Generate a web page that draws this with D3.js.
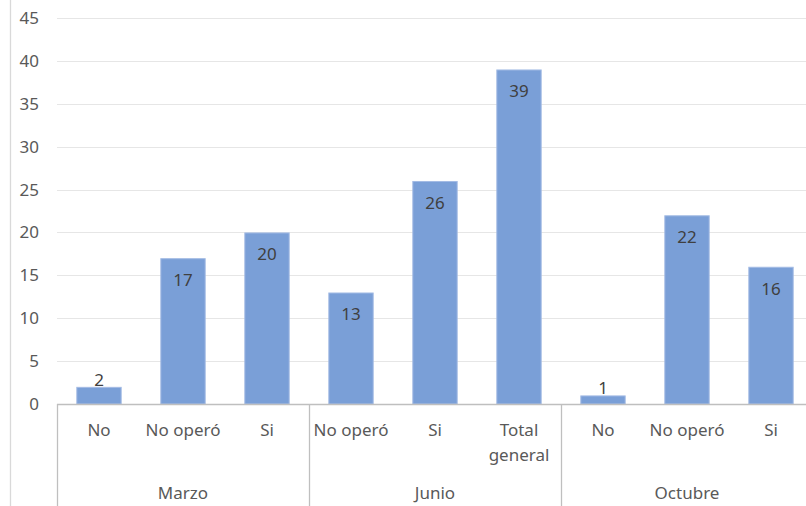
<!DOCTYPE html>
<meta charset="utf-8">
<style>
    body { margin: 0; background: #fff; }
    svg text { font-family: "Noto Sans", sans-serif; fill: #595959; }
    .grid line { stroke: #e6e6e6; stroke-width: 1; }
    .sep { stroke: #bfbfbf; stroke-width: 1.3; }
</style>
<svg width="806" height="506"></svg>
<script src="https://d3js.org/d3.v7.min.js"></script>
<script>

    // data
    var groups = ["Marzo", "Junio", "Octubre"];
    var categories = ["No", "No operó", "Si", "No operó", "Si", "Total general", "No", "No operó", "Si"];
    var groupOf = [0, 0, 0, 1, 1, 1, 2, 2, 2];
    var values = [2, 17, 20, 13, 26, 39, 1, 22, 16];
    var yTicks = [0, 5, 10, 15, 20, 25, 30, 35, 40, 45];

    var svg = d3.select("svg");

    var left = 57, right = 813, y0 = 404, yTop = 18;

    var x = d3.scaleBand()
        .domain(d3.range(values.length))
        .range([left, right])
        .paddingInner(0.46)
        .paddingOuter(0.23);

    var y = d3.scaleLinear().domain([0, 45]).range([y0, yTop]);

    // chart border on the left
    svg.append("line")
        .attr("x1", 10.5).attr("x2", 10.5)
        .attr("y1", 0).attr("y2", 506)
        .attr("stroke", "#d9d9d9").attr("stroke-width", 1.3);

    // gridlines
    svg.append("g").attr("class", "grid")
        .selectAll("line")
        .data(yTicks.slice(1))
        .enter().append("line")
        .attr("x1", left).attr("x2", 806)
        .attr("y1", function (d) { return Math.round(y(d)) + 0.5; })
        .attr("y2", function (d) { return Math.round(y(d)) + 0.5; });

    // y labels
    svg.append("g")
        .selectAll("text")
        .data(yTicks)
        .enter().append("text")
        .attr("x", 39)
        .attr("y", function (d) { return y(d); })
        .attr("dy", "0.35em")
        .attr("text-anchor", "end")
        .attr("font-size", 17)
        .text(function (d) { return d; });

    // bars
    svg.append("g")
        .selectAll("rect")
        .data(values)
        .enter().append("rect")
        .attr("x", function (d, i) { return x(i) + 0.5; })
        .attr("width", x.bandwidth() - 1)
        .attr("y", function (d) { return y(d) + 0.5; })
        .attr("height", function (d) { return y0 - y(d) - 0.5; })
        .attr("fill", "#7a9fd7")
        .attr("stroke", "#a3bbe4")
        .attr("stroke-width", 1);

    // value labels
    svg.append("g")
        .selectAll("text")
        .data(values)
        .enter().append("text")
        .attr("x", function (d, i) { return x(i) + x.bandwidth() / 2; })
        .attr("y", function (d) {
            return (y0 - y(d) < 30) ? y(d) - 1 : y(d) + 28;
        })
        .attr("text-anchor", "middle")
        .attr("font-size", 17)
        .style("fill", "#404040")
        .text(function (d) { return d; });

    // base axis line
    svg.append("line").attr("class", "sep")
        .attr("x1", left).attr("x2", 806)
        .attr("y1", y0 + 0.5).attr("y2", y0 + 0.5);

    // group separators
    var step = x.step();
    svg.append("g")
        .selectAll("line")
        .data(d3.range(groups.length + 1))
        .enter().append("line").attr("class", "sep")
        .attr("x1", function (d) { return Math.round(left + d * 3 * step) + 0.5; })
        .attr("x2", function (d) { return Math.round(left + d * 3 * step) + 0.5; })
        .attr("y1", y0).attr("y2", 506);

    // category labels
    var cat = svg.append("g")
        .selectAll("text")
        .data(categories)
        .enter().append("text")
        .attr("text-anchor", "middle")
        .attr("font-size", 17)
        .attr("y", 436);

    cat.each(function (d, i) {
        var t = d3.select(this);
        var cx = x(i) + x.bandwidth() / 2;
        var words = d === "Total general" ? ["Total", "general"] : [d];
        words.forEach(function (w, k) {
            t.append("tspan").attr("x", cx).attr("dy", k === 0 ? 0 : 25).text(w);
        });
    });

    // group labels
    svg.append("g")
        .selectAll("text")
        .data(groups)
        .enter().append("text")
        .attr("x", function (d, i) { return left + (i * 3 + 1.5) * step; })
        .attr("y", 499)
        .attr("text-anchor", "middle")
        .attr("font-size", 17)
        .text(function (d) { return d; });

</script>
